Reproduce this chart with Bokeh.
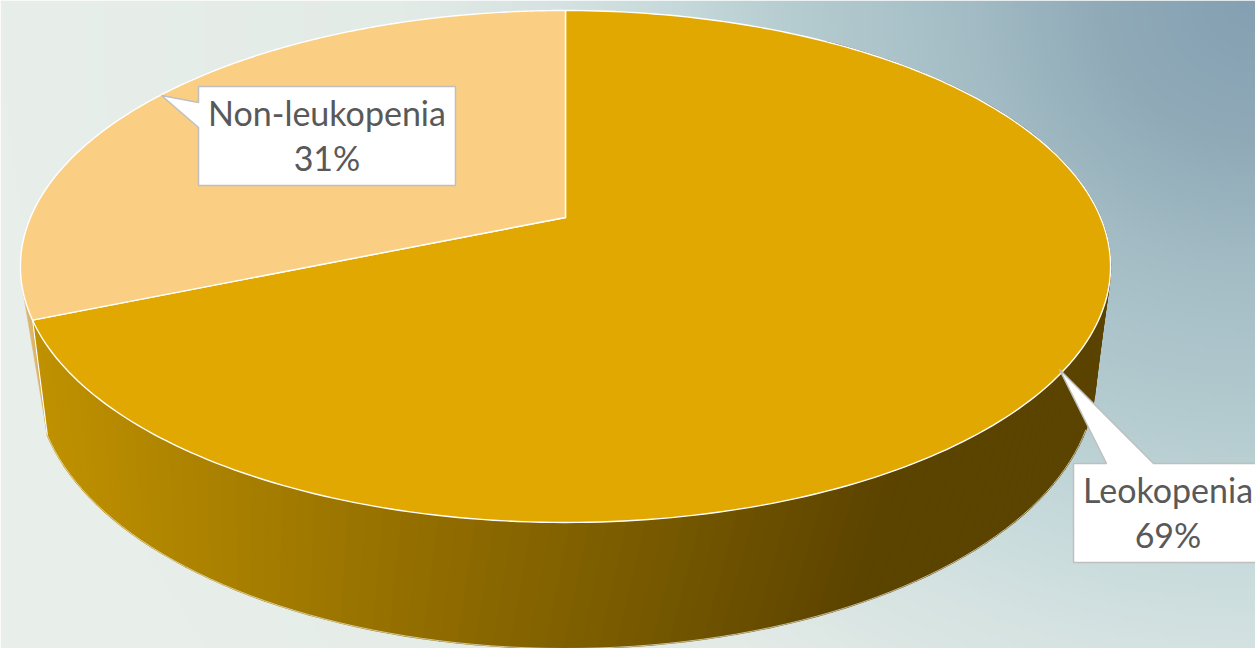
import numpy as np
from bokeh.plotting import figure
from bokeh.models import Range1d
from bokeh.core.properties import value
from bokeh.embed import file_html
from bokeh.resources import INLINE

# ---- data
categories = ["Leokopenia", "Non-leukopenia"]
shares = [68.7, 31.3]
top_colors = ["#E0A800", "#FBCF83"]
label_text_color = "#595959"

W, H = 1255, 648
CX = 565.0


def rim(theta, apex_y, A, C, b):
    u, v = np.sin(theta), np.cos(theta)
    d = 1 + b * v
    return CX + C * u / d, apex_y - A * v / d


TOP = dict(apex_y=217.0, A=246.6, C=535.0, b=0.1914)
BOT = dict(apex_y=337.4, A=264.0, C=524.0, b=0.15)
BOT_TWIST = 0.04


def up(y):
    return H - np.asarray(y, dtype=float)


p = figure(width=W, height=H, output_backend="svg", toolbar_location=None,
           x_range=Range1d(0, W), y_range=Range1d(0, H), min_border=0)
p.axis.visible = False
p.grid.visible = False
p.outline_line_color = None
p.background_fill_color = "#ffffff"

# ---- background: gradient from the top right corner
stops_t = [0.0, 0.12, 0.24, 0.36, 0.45, 0.55, 0.68, 1.0, 1.5]
stops_c = np.array([[0x84, 0xA0, 0xB2], [0x90, 0xAA, 0xB8], [0xA5, 0xBE, 0xC6],
                    [0xB4, 0xCB, 0xCF], [0xC4, 0xD8, 0xDA], [0xD4, 0xE2, 0xE1],
                    [0xE3, 0xEB, 0xE7], [0xE8, 0xEF, 0xEB], [0xE8, 0xEF, 0xEB]], dtype=float)
gx, gy = np.meshgrid(np.linspace(0, W, 314), np.linspace(0, H, 162))
t = np.sqrt(((W - gx) / W) ** 2 + ((H - gy) / 1180.0) ** 2)  # gy measured upward from bottom
img = np.zeros(t.shape + (4,), dtype=np.uint8)
for i in range(3):
    img[..., i] = np.interp(t, stops_t, stops_c[:, i]).astype(np.uint8)
img[..., 3] = 255
view = img.view(dtype=np.uint32).reshape(t.shape)
p.image_rgba(image=[view], x=0, y=0, dw=W, dh=H)

boundary = 2 * np.pi * shares[0] / sum(shares)

# ---- side wall of the light slice: a sliver from the rim to the wall's foot
th = np.linspace(boundary, boundary + 0.13, 12)
tx, ty = rim(th, **TOP)
fx, fy = rim(np.array([boundary + BOT_TWIST]), **BOT)
p.patch(np.r_[tx, fx], up(np.r_[ty, fy]), fill_color="#DEB56E", line_color="#DEB56E", line_width=0.5)

# ---- side wall of the large slice, shaded strip by strip
shade_left = np.array([0xC0, 0x92, 0x00], dtype=float)
shade_right = np.array([0x5B, 0x43, 0x00], dtype=float)
th = np.linspace(0.6, boundary, 130)
tx, ty = rim(th, **TOP)
bx, by = rim(th + BOT_TWIST, **BOT)
xs, ys, cols = [], [], []
for i in range(len(th) - 1):
    xs.append([tx[i], tx[i + 1], bx[i + 1], bx[i]])
    ys.append(list(up([ty[i], ty[i + 1], by[i + 1], by[i]])))
    f = np.clip((0.5 * (bx[i] + bx[i + 1]) - 45) / (860 - 45), 0, 1)
    c = shade_left + (shade_right - shade_left) * f
    cols.append("#%02x%02x%02x" % tuple(int(v) for v in c))
p.patches(xs, ys, fill_color=cols, line_color=cols, line_width=1.5)

# thin light edges of the wall
sel = th > 1.85
p.line(bx[sel], up(by[sel]), line_color="#f2efe0", line_width=1, line_alpha=0.7)
p.line([tx[-1], bx[-1]], up([ty[-1], by[-1]]), line_color="#ffffff", line_width=1.2)

# ---- top face
frac = 0.0
for share, col in zip(shares, top_colors):
    a0, a1 = 2 * np.pi * frac, 2 * np.pi * (frac + share / sum(shares))
    th = np.linspace(a0, a1, 240)
    rx, ry = rim(th, **TOP)
    p.patch(np.r_[CX, rx], up(np.r_[TOP["apex_y"], ry]), fill_color=col,
            line_color="#ffffff", line_width=1.4, line_join="round")
    frac += share / sum(shares)

# ---- callouts
border = "#BFBFBF"
p.patch([161, 198, 198, 455, 455, 198, 198, 161], up([95, 102, 86, 86, 185, 185, 127, 95]),
        fill_color="#ffffff", line_color=border, line_width=1.5)
p.patch([1059, 1153, 1265, 1265, 1073, 1073, 1106, 1059], up([369, 463, 463, 562, 562, 463, 463, 369]),
        fill_color="#ffffff", line_color=border, line_width=1.5)

font = value("Lato")
for cat, share, cx, y1, y2 in [(categories[1], shares[1], 326.5, 112, 157),
                               (categories[0], shares[0], 1167.5, 489, 534)]:
    p.text([cx, cx], up([y1, y2]), text=[cat, f"{round(share)}%"], text_font=font, text_font_size="34px",
           text_color=label_text_color, text_align="center", text_baseline="middle")

open("out.html", "w").write(file_html(p, INLINE))
